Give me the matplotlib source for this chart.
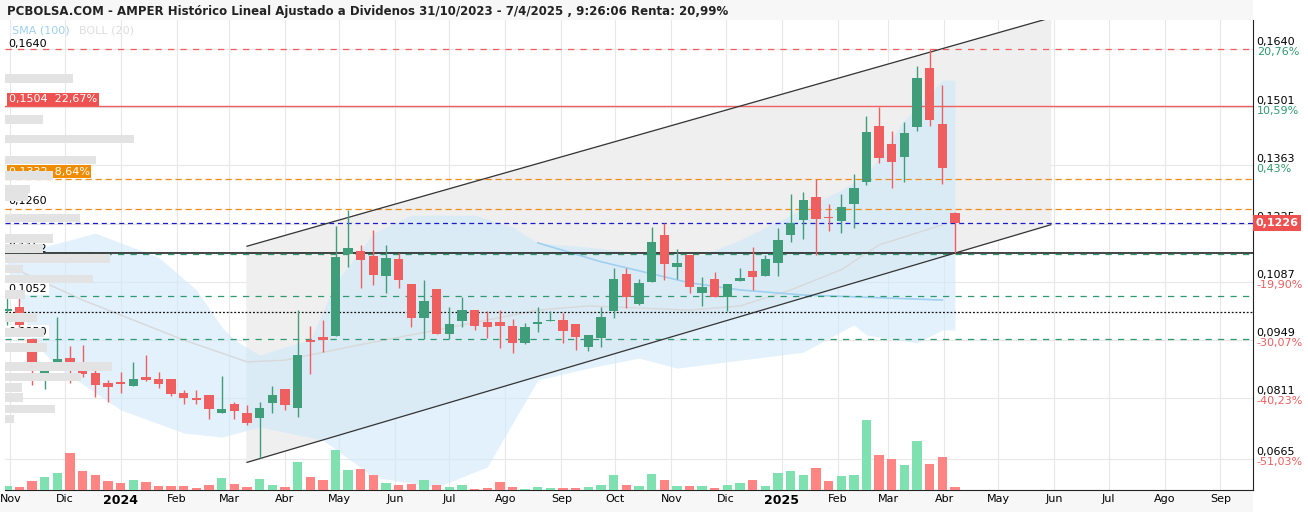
import numpy as np
import pandas as pd
import matplotlib
matplotlib.use("Agg")
import matplotlib.pyplot as plt
import matplotlib.dates as mdates

# velas semanales AMPER (precio ajustado)
fechas = pd.date_range("2023-10-30", periods=76, freq="7D")
apertura = [0.1017, 0.1026, 0.0950, 0.0858, 0.0886, 0.0905, 0.0886, 0.0870, 0.0846, 0.0848,
            0.0839, 0.0860, 0.0855, 0.0855, 0.0822, 0.0810, 0.0817, 0.0774, 0.0796, 0.0774,
            0.0763, 0.0798, 0.0832, 0.0786, 0.0948, 0.0955, 0.0958, 0.1153, 0.1160, 0.1148,
            0.1100, 0.1141, 0.1081, 0.1000, 0.1069, 0.0962, 0.0993, 0.1019, 0.0991, 0.0991,
            0.0981, 0.0941, 0.0986, 0.0993, 0.0996, 0.0986, 0.0931, 0.0953, 0.1017, 0.1105,
            0.1034, 0.1086, 0.1198, 0.1122, 0.1150, 0.1060, 0.1093, 0.1050, 0.1088, 0.1112,
            0.1100, 0.1131, 0.1198, 0.1233, 0.1288, 0.1241, 0.1231, 0.1271, 0.1324, 0.1457,
            0.1414, 0.1383, 0.1455, 0.1595, 0.1462, 0.1250]
maximo = [0.1050, 0.1050, 0.0950, 0.0896, 0.1003, 0.0934, 0.0936, 0.0879, 0.0853, 0.0872,
          0.0896, 0.0912, 0.0872, 0.0855, 0.0829, 0.0829, 0.0817, 0.0862, 0.0801, 0.0793,
          0.0801, 0.0839, 0.0832, 0.1019, 0.0981, 0.0996, 0.1219, 0.1257, 0.1174, 0.1210,
          0.1174, 0.1155, 0.1081, 0.1091, 0.1069, 0.1027, 0.1050, 0.1019, 0.1017, 0.1019,
          0.0998, 0.0988, 0.1027, 0.1017, 0.1012, 0.0986, 0.0960, 0.1027, 0.1119, 0.1119,
          0.1093, 0.1217, 0.1226, 0.1164, 0.1150, 0.1098, 0.1110, 0.1081, 0.1119, 0.1169,
          0.1150, 0.1214, 0.1295, 0.1300, 0.1331, 0.1271, 0.1295, 0.1343, 0.1481, 0.1502,
          0.1445, 0.1466, 0.1600, 0.1640, 0.1554, 0.1252]
minimo = [0.0984, 0.0979, 0.0841, 0.0832, 0.0879, 0.0846, 0.0860, 0.0813, 0.0801, 0.0822,
          0.0839, 0.0850, 0.0834, 0.0815, 0.0796, 0.0796, 0.0760, 0.0774, 0.0760, 0.0746,
          0.0667, 0.0774, 0.0782, 0.0765, 0.0867, 0.0919, 0.0958, 0.1122, 0.1072, 0.1079,
          0.1060, 0.1072, 0.0979, 0.0950, 0.0962, 0.0950, 0.0979, 0.0972, 0.0953, 0.0929,
          0.0917, 0.0939, 0.0967, 0.0993, 0.0941, 0.0924, 0.0922, 0.0931, 0.1000, 0.1024,
          0.1031, 0.1086, 0.1091, 0.1093, 0.1060, 0.1029, 0.1050, 0.1017, 0.1088, 0.1067,
          0.1100, 0.1100, 0.1181, 0.1188, 0.1150, 0.1207, 0.1202, 0.1214, 0.1317, 0.1369,
          0.1310, 0.1324, 0.1445, 0.1457, 0.1319, 0.1155]
cierre = [0.1022, 0.0984, 0.0877, 0.0877, 0.0903, 0.0879, 0.0867, 0.0841, 0.0836, 0.0843,
          0.0855, 0.0853, 0.0843, 0.0820, 0.0810, 0.0805, 0.0784, 0.0784, 0.0779, 0.0751,
          0.0786, 0.0817, 0.0793, 0.0912, 0.0943, 0.0948, 0.1145, 0.1167, 0.1138, 0.1103,
          0.1143, 0.1091, 0.1000, 0.1041, 0.0962, 0.0986, 0.1019, 0.0981, 0.0979, 0.0981,
          0.0941, 0.0979, 0.0991, 0.0996, 0.0969, 0.0955, 0.0960, 0.1003, 0.1093, 0.1050,
          0.1084, 0.1181, 0.1129, 0.1131, 0.1074, 0.1074, 0.1050, 0.1081, 0.1095, 0.1098,
          0.1141, 0.1186, 0.1226, 0.1281, 0.1236, 0.1238, 0.1264, 0.1309, 0.1443, 0.1381,
          0.1371, 0.1440, 0.1571, 0.1471, 0.1357, 0.1226]
volumen = [4, 3, 9, 13, 17, 37, 19, 15, 9, 7, 10, 8, 4, 4, 4, 2, 5, 12, 6, 3,
           11, 5, 3, 28, 13, 10, 40, 20, 21, 15, 7, 5, 6, 10, 5, 3, 5, 1, 2, 8,
           3, 1, 3, 2, 2, 2, 3, 5, 15, 5, 4, 16, 10, 4, 4, 4, 2, 5, 7, 10,
           4, 17, 19, 15, 22, 9, 14, 15, 70, 35, 31, 25, 49, 26, 33, 3]

# Bollinger (20): semana -> banda
boll_sem = [0, 2, 7, 12, 15, 17, 18, 20, 22, 24, 26, 29, 32, 37, 40, 42, 46, 50, 55, 58, 62, 66, 68, 71, 74]
boll_sup = [0.1138, 0.1162, 0.1202, 0.1145, 0.1067, 0.0979, 0.0948, 0.0912, 0.0931, 0.0948, 0.1084,
            0.1202, 0.1245, 0.1245, 0.1217, 0.1179, 0.1169, 0.1155, 0.1150, 0.1186, 0.1245, 0.1305,
            0.1340, 0.1471, 0.1566]
boll_inf_sem = [0, 2, 4, 9, 14, 17, 20, 25, 29, 34, 38, 42, 46, 50, 53, 58, 63, 67, 68, 72, 74]
boll_inf = [0.1134, 0.0948, 0.0884, 0.0782, 0.0727, 0.0717, 0.0741, 0.0710, 0.0622, 0.0598, 0.0646,
            0.0853, 0.0881, 0.0905, 0.0881, 0.0900, 0.0919, 0.0984, 0.0960, 0.0941, 0.0972]
boll_med_sem = [0, 6, 14, 19, 22, 27, 34, 42, 46, 54, 58, 62, 66, 69, 74]
boll_med = [0.1126, 0.1043, 0.0948, 0.0896, 0.0900, 0.0931, 0.0972, 0.1019, 0.1029, 0.1019,
            0.1029, 0.1067, 0.1115, 0.1174, 0.1222]
sma_sem = [42, 47, 54, 58, 63, 74]
sma_100 = [0.1179, 0.1134, 0.1084, 0.1067, 0.1055, 0.1043]

# canal
canal_fechas = ["2024-03-11", "2025-05-30"]
canal_sup = [0.1171, 0.1714]
canal_inf = [0.0657, 0.1222]

# perfil de volumen (precio centro, ancho relativo)
perfil_precio = [0.1570, 0.1473, 0.1426, 0.1376, 0.1339, 0.1307, 0.1288, 0.1238, 0.1190, 0.1166,
                 0.1141, 0.1117, 0.1093, 0.1057, 0.1001, 0.0965, 0.0931, 0.0884, 0.0860, 0.0836,
                 0.0812, 0.0784, 0.0760]
perfil_ancho = [68, 38, 129, 91, 48, 25, 23, 75, 48, 38, 105, 18, 88, 20, 32, 39, 42, 107, 76, 17, 18, 50, 9]

ticks_der = [0.1640, 0.1501, 0.1363, 0.1225, 0.1087, 0.0949, 0.0811, 0.0665]
ticks_pct = ["20,76%", "10,59%", "0,43%", "-9,77%", "-19,90%", "-30,07%", "-40,23%", "-51,03%"]

VERDE = "#3f9e79"
ROJO = "#ef5f5f"

fig = plt.figure(figsize=(13.08, 5.12), dpi=100)
fig.patch.set_facecolor("white")
ax = fig.add_axes([5 / 1308, 22 / 512, 1248 / 1308, 470 / 512])
ax.set_ylim(0.05913, 0.17089)
ax.set_xlim(mdates.date2num(pd.Timestamp("2023-10-29")), mdates.date2num(pd.Timestamp("2025-09-19")))

# rejilla de meses
meses = pd.date_range("2023-11-01", "2025-09-01", freq="MS")
for m in meses:
    ax.axvline(m, color="#e8e8e8", lw=0.8, zorder=0)
for t in ticks_der:
    ax.axhline(t, color="#e8e8e8", lw=0.8, zorder=0)

# canal sombreado
cx = mdates.date2num(pd.to_datetime(canal_fechas))
ax.fill([cx[0], cx[1], cx[1], cx[0]], [canal_sup[0], canal_sup[1], canal_inf[1], canal_inf[0]],
        color="#efefef", zorder=0.5)
ax.plot(cx, canal_sup, color="#333333", lw=0.9, zorder=3)
ax.plot(cx, canal_inf, color="#333333", lw=0.9, zorder=3)

# bollinger
xs = mdates.date2num(fechas)
sup_i = np.interp(np.arange(76), boll_sem, boll_sup)
inf_i = np.interp(np.arange(76), boll_inf_sem, boll_inf)
ax.fill_between(xs, inf_i, sup_i, color="#cfe9fb", alpha=0.6, lw=0, zorder=1)
ax.plot(xs[boll_med_sem], boll_med, color="#d8d8d8", lw=1, zorder=1.5)
ax.plot(xs[sma_sem], sma_100, color="#9fd0f0", lw=1.2, zorder=1.5)

# niveles horizontales
ax.axhline(0.1640, color="#ef5f5f", ls=(0, (5, 5)), lw=0.9, zorder=2)
ax.axhline(0.1504, color="#ef5f5f", lw=1, zorder=2)
ax.axhline(0.1332, color="#f08c1a", ls=(0, (5, 3)), lw=0.9, zorder=2)
ax.axhline(0.1260, color="#f08c1a", ls=(0, (5, 3)), lw=0.9, zorder=2)
ax.axhline(0.1226, color="#1a1acc", ls=(0, (4, 3)), lw=0.9, zorder=2)
ax.axhline(0.1155, color="#111111", lw=1.1, zorder=2)
ax.axhline(0.1152, color="#2e9a6e", ls=(0, (5, 5)), lw=0.9, zorder=2)
ax.axhline(0.1052, color="#2e9a6e", ls=(0, (5, 5)), lw=0.9, zorder=2)
ax.axhline(0.1014, color="#111111", ls=(0, (1.5, 1.5)), lw=0.9, zorder=2)
ax.axhline(0.0950, color="#2e9a6e", ls=(0, (5, 5)), lw=0.9, zorder=2)

# perfil de volumen
axp = ax.twiny()
axp.set_xlim(0, 1248)
axp.barh(perfil_precio, perfil_ancho, height=0.0021, color="#e3e3e3", zorder=0.8)
axp.axis("off")

# velas
for i in range(76):
    c = VERDE if cierre[i] >= apertura[i] else ROJO
    ax.vlines(xs[i], minimo[i], maximo[i], color=c, lw=1, zorder=4)
    b0, b1 = sorted([apertura[i], cierre[i]])
    ax.bar(xs[i], max(b1 - b0, 0.0002), bottom=b0, width=5.2, color=c, zorder=5)

# volumen
axv = ax.twinx()
axv.set_ylim(0, 470)
colv = ["#7fe0b0" if cierre[i] >= apertura[i] else "#ff8585" for i in range(76)]
axv.bar(xs, volumen, width=5.2, color=colv, zorder=1)
axv.axis("off")

# etiquetas izquierda
bb = dict(boxstyle="square,pad=0.15", lw=0)
tr_y = ax.get_yaxis_transform()
ax.text(0.003, 0.1653, "0,1640", fontsize=8, va="center", transform=tr_y)
ax.text(0.003, 0.1508, "0,1504  22,67%", fontsize=8, va="bottom", color="white",
        bbox=dict(bb, fc="#ef5050"), transform=tr_y)
ax.text(0.003, 0.1336, "0,1332  8,64%", fontsize=8, va="bottom", color="white",
        bbox=dict(bb, fc="#f08c00"), transform=tr_y)
ax.text(0.003, 0.1266, "0,1260", fontsize=8, va="bottom", bbox=dict(bb, fc="white"), transform=tr_y)
ax.text(0.003, 0.1158, "0,115", fontsize=8, va="bottom", transform=tr_y)
ax.text(0.003, 0.1153, "0,1152", fontsize=8, va="bottom", transform=tr_y)
ax.text(0.003, 0.1058, "0,1052", fontsize=8, va="bottom", bbox=dict(bb, fc="white"), transform=tr_y)
ax.text(0.003, 0.0956, "0,0950", fontsize=8, va="bottom", bbox=dict(bb, fc="white"), transform=tr_y)
ax.text(0.006, 0.978, "SMA (100)", fontsize=8, color="#9fd0f0", transform=ax.transAxes, va="center")
ax.text(0.059, 0.978, "BOLL (20)", fontsize=8, color="#dddddd", transform=ax.transAxes, va="center")

# eje derecho
ax.set_yticks([])
for t, p in zip(ticks_der, ticks_pct):
    colp = "#2e9a6e" if not p.startswith("-") else "#ef5f5f"
    ax.text(1.003, t + 0.0004, ("%.4f" % t).replace(".", ","), fontsize=8, va="bottom", transform=tr_y, clip_on=False)
    ax.text(1.003, t + 0.0004, p, fontsize=8, va="top", color=colp, transform=tr_y, clip_on=False)
ax.text(1.002, 0.1226, "0,1226", fontsize=8, va="center", color="white", fontweight="bold",
        bbox=dict(boxstyle="square,pad=0.25", fc="#ef5050", lw=0), transform=tr_y, clip_on=False)

# eje x
nombres = {1: "Ene", 2: "Feb", 3: "Mar", 4: "Abr", 5: "May", 6: "Jun", 7: "Jul", 8: "Ago",
           9: "Sep", 10: "Oct", 11: "Nov", 12: "Dic"}
ax.set_xticks(meses)
ax.set_xticklabels([str(m.year) if m.month == 1 else nombres[m.month] for m in meses], fontsize=8)
for lab, m in zip(ax.get_xticklabels(), meses):
    if m.month == 1:
        lab.set_fontweight("bold")
        lab.set_fontsize(9)
ax.tick_params(axis="x", length=0, pad=3)
for s in ["top", "left"]:
    ax.spines[s].set_visible(False)
ax.spines["right"].set_color("#222222")
ax.spines["bottom"].set_color("#222222")

# cabecera y pie
fig.patches.append(plt.Rectangle((0, 492 / 512), 1253 / 1308, 20 / 512, transform=fig.transFigure,
                                 fc="#f7f7f7", ec="none", zorder=-1))
fig.patches.append(plt.Rectangle((0, 0), 1253 / 1308, 22 / 512, transform=fig.transFigure,
                                 fc="#f7f7f7", ec="none", zorder=-1))
fig.text(7 / 1308, 1 - 12 / 512, "PCBOLSA.COM - AMPER Histórico Lineal Ajustado a Dividenos 31/10/2023 - 7/4/2025 , 9:26:06 Renta: 20,99%",
         fontsize=8.5, fontweight="bold", va="center", color="#222222")

fig.savefig("out.png", dpi=100)
